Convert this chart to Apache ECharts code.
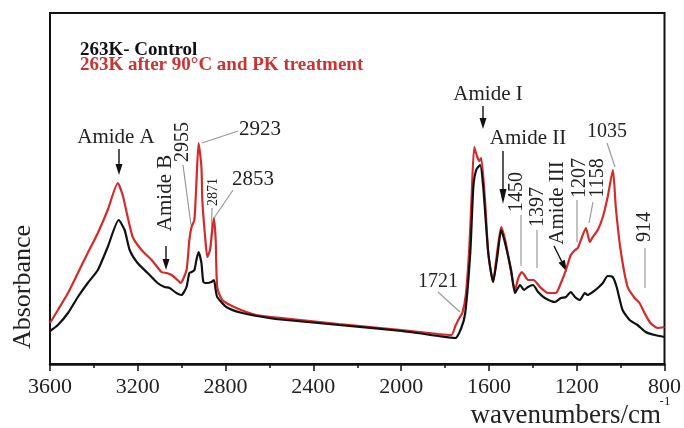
<!DOCTYPE html>
<html>
<head>
<meta charset="utf-8">
<script src="https://cdn.jsdelivr.net/npm/echarts@6/dist/echarts.min.js"></script>
<style>
  html, body { margin: 0; padding: 0; background: #fff; }
  #chart { width: 684px; height: 428px; }
</style>
</head>
<body>
<div id="chart"></div>
<script>
// FTIR spectra, absorbance in arbitrary units (offset per trace)
const controlWavenumbers = [3600,3564,3518,3473,3428,3382,3337,3287,3260,3237,3201,3155,3110,3078,3055,3024,3001,2978,2965,2955,2942,2933,2923,2910,2901,2883,2865,2853,2845,2838,2797,2724,2602,2524,2284,1998,1830,1753,1726,1708,1685,1671,1658,1640,1626,1603,1581,1562,1544,1522,1499,1481,1458,1440,1422,1399,1376,1345,1299,1272,1249,1227,1208,1186,1163,1150,1127,1104,1081,1059,1036,1018,991,959,923,886,845,800];
const controlAbsorbance = [33,39,51,67,81,94,117,144,134,114,101,91,81,77,76,71,69,77,91,92,94,104,112,101,82,81,82,84,74,67,57,51,46,44,39,33,28,26,36,51,111,177,194,199,177,111,82,107,134,117,94,71,79,74,77,79,72,66,62,66,67,72,67,64,71,69,72,76,81,88,87,77,54,44,39,32,29,27];

const treatedWavenumbers = [3600,3564,3518,3473,3428,3382,3337,3291,3269,3246,3223,3183,3137,3092,3069,3046,3019,3005,2978,2965,2955,2942,2933,2923,2910,2906,2892,2883,2871,2862,2853,2845,2838,2815,2751,2661,2543,2284,1998,1830,1771,1753,1735,1721,1705,1690,1680,1667,1653,1643,1635,1617,1603,1581,1567,1544,1526,1503,1481,1466,1450,1430,1422,1397,1367,1331,1295,1272,1249,1227,1207,1195,1181,1158,1140,1127,1104,1081,1059,1035,1022,1000,968,936,914,891,864,832,800];
const treatedAbsorbance = [41,54,71,91,111,131,154,181,169,147,127,114,104,92,91,89,84,81,94,124,137,144,181,221,197,164,124,107,114,131,146,124,77,64,56,49,46,40,34,30,29,38,46,51,70,114,161,217,207,203,206,161,111,82,104,137,124,97,74,86,92,86,84,84,77,71,71,81,94,109,114,116,124,136,122,127,134,147,167,194,157,114,77,66,61,51,41,36,37];

const xTickMin = 800, xTickMax = 3600, xTickStep = 400;
const seriesNames = ['263K- Control', '263K after 90\u00b0C and PK treatment'];

const BLACK = '#111111';
const RED = '#d42a2a';
const SERIF = '"Liberation Serif", "DejaVu Serif", serif';

const zip = (xs, ys) => xs.map((x, i) => [x, ys[i]]);

function vText(text, x, y, size) {
  return { type: 'text', x: x, y: y, rotation: Math.PI / 2,
    style: { text: text, font: size + 'px ' + SERIF, fill: '#222', align: 'center', verticalAlign: 'middle' } };
}
function hText(text, x, y, size) {
  return { type: 'text', x: x, y: y,
    style: { text: text, font: size + 'px ' + SERIF, fill: '#222', align: 'center', verticalAlign: 'middle' } };
}
function leader(x1, y1, x2, y2) {
  return { type: 'line', shape: { x1: x1, y1: y1, x2: x2, y2: y2 },
    style: { stroke: '#9a9a9a', lineWidth: 1.2 } };
}
function arrow(x1, y1, x2, y2, head) {
  const dx = x2 - x1, dy = y2 - y1, len = Math.hypot(dx, dy);
  const ux = dx / len, uy = dy / len;
  const bx = x2 - ux * head, by = y2 - uy * head;
  const px = -uy * 3.5, py = ux * 3.5;
  return [
    { type: 'line', shape: { x1: x1, y1: y1, x2: bx, y2: by }, style: { stroke: '#111', lineWidth: 1.4 } },
    { type: 'polygon', shape: { points: [[bx + px, by + py], [bx - px, by - py], [x2, y2]] }, style: { fill: '#111' } }
  ];
}

const annotations = [].concat(
  [hText('Amide A', 116, 137, 21)], arrow(119, 149, 119, 175, 11),
  [vText('Amide B', 165, 193, 21)], arrow(166, 246, 166, 270, 11),
  [vText('2955', 183, 142, 20), leader(183, 165, 191, 225)],
  [hText('2923', 260, 129, 21), leader(238, 131, 202, 143)],
  [vText('2871', 213, 192, 14), leader(212, 208, 211, 247)],
  [hText('2853', 253, 179, 21), leader(233, 190, 214, 218)],
  [hText('1721', 438, 282, 20), leader(438, 292, 460, 312)],
  [hText('Amide I', 488, 94, 21)], arrow(483, 106, 483, 129, 11),
  [hText('Amide II', 528, 138, 21)], arrow(503, 151, 503, 204, 15),
  [vText('1450', 517, 192, 20), leader(521, 215, 521, 266)],
  [vText('1397', 538, 207, 20), leader(537, 230, 537, 268)],
  [vText('Amide III', 557, 203, 21)], arrow(554, 246, 567, 272, 12),
  [vText('1207', 580, 178, 20), leader(577, 200, 577, 242)],
  [vText('1158', 598, 178, 20), leader(593, 202, 589, 223)],
  [hText('1035', 607, 132, 20), leader(607, 143, 615, 167)],
  [vText('914', 645, 227, 20), leader(645, 248, 645, 288)]
);

const chart = echarts.init(document.getElementById('chart'), null, { renderer: 'canvas' });
chart.setOption({
  animation: false,
  backgroundColor: '#ffffff',
  grid: { left: 50, right: 17, top: 13, bottom: 64, show: true, borderColor: '#111', borderWidth: 2, backgroundColor: 'transparent' },
  xAxis: {
    type: 'value', inverse: true, min: xTickMin, max: xTickMax, interval: xTickStep,
    axisLine: { show: true, onZero: false, lineStyle: { color: '#111', width: 2.5 } },
    axisTick: { show: true, inside: false, length: 7, lineStyle: { color: '#111', width: 1.5 } },
    minorTick: { show: true, splitNumber: 2, length: 4, lineStyle: { color: '#111', width: 1.5 } },
    splitLine: { show: false },
    axisLabel: { fontFamily: SERIF, fontSize: 22, color: '#222', margin: 12, formatter: v => String(v) }
  },
  yAxis: {
    type: 'value', min: 0, max: 351,
    axisLine: { show: false }, axisTick: { show: false }, axisLabel: { show: false }, splitLine: { show: false }
  },
  series: [
    { name: seriesNames[0], type: 'line', data: zip(controlWavenumbers, controlAbsorbance),
      showSymbol: false, smooth: 0.2, lineStyle: { color: BLACK, width: 2.2 }, z: 3 },
    { name: seriesNames[1], type: 'line', data: zip(treatedWavenumbers, treatedAbsorbance),
      showSymbol: false, smooth: 0.2, lineStyle: { color: RED, width: 2.2 }, z: 2 }
  ],
  graphic: [
    { type: 'text', left: 80, top: 41, style: { text: seriesNames[0], font: 'bold 19px ' + SERIF, fill: '#111' } },
    { type: 'text', left: 80, top: 56, style: { text: seriesNames[1], font: 'bold 19px ' + SERIF, fill: '#cc3333' } },
    { type: 'text', x: 23, y: 287, rotation: Math.PI / 2,
      style: { text: 'Absorbance', font: '26px ' + SERIF, fill: '#222', align: 'center', verticalAlign: 'middle' } },
    { type: 'text', x: 661, y: 416,
      style: { text: 'wavenumbers/cm', font: '27px ' + SERIF, fill: '#222', align: 'right', verticalAlign: 'middle' } },
    { type: 'text', x: 665, y: 402,
      style: { text: '-1', font: '13px ' + SERIF, fill: '#222', align: 'center', verticalAlign: 'middle' } }
  ].concat(annotations)
});
</script>
</body>
</html>
